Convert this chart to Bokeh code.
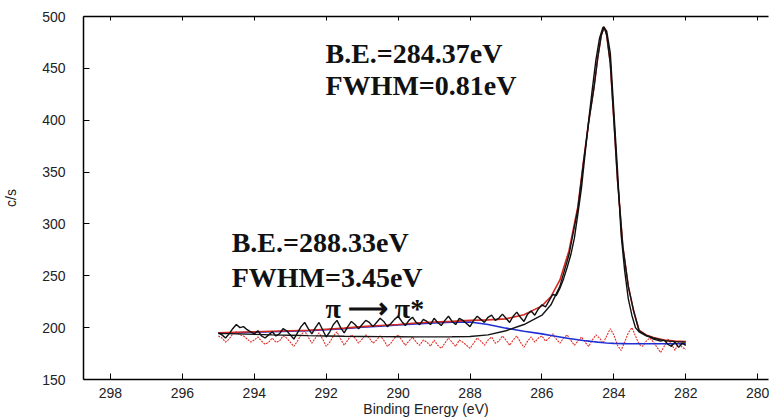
from bokeh.plotting import figure
from bokeh.models import Range1d, LinearAxis, Label, SingleIntervalTicker, CustomJSTickFormatter
from bokeh.embed import file_html
from bokeh.resources import INLINE

# ---------------- data ----------------
# raw spectrum, 295.0 -> 282.0 eV, step 0.1 eV
raw_start, raw_step = 295.0, -0.1
raw_counts = [
    195, 193, 190, 194, 199, 203, 200, 201, 198, 196,
    194, 197, 192, 190, 193, 196, 192, 194, 199, 197,
    193, 189, 195, 201, 205, 199, 194, 200, 205, 198,
    191, 196, 203, 207, 200, 195, 201, 206, 203, 199,
    203, 207, 205, 201, 205, 209, 206, 201, 204, 208,
    211, 206, 202, 207, 210, 205, 203, 208, 206, 203,
    209, 205, 202, 207, 211, 206, 203, 209, 207, 204,
    201, 207, 211, 208, 205, 210, 212, 207, 209, 213,
    209, 205, 211, 215, 210, 206, 213, 216, 212, 218,
    222, 220, 226, 232, 231, 238, 247, 258, 270, 286,
    310, 335, 368, 400, 430, 458, 479, 490, 486, 465,
    408, 352, 290, 255, 228, 212, 200, 196, 194, 192,
    191, 189, 188, 187, 188, 184, 182, 186, 181, 185,
    183,
]
# residual (red dotted), same energies
residual = [
    192, 190, 186, 189, 194, 196, 193, 192, 189, 186,
    188, 191, 187, 184, 186, 190, 186, 187, 192, 190,
    186, 182, 187, 193, 197, 191, 185, 190, 195, 189,
    182, 186, 192, 196, 189, 183, 188, 193, 190, 185,
    189, 193, 190, 185, 188, 192, 188, 182, 185, 190,
    193, 188, 183, 187, 191, 186, 183, 188, 186, 182,
    188, 183, 180, 185, 190, 186, 182, 188, 186, 183,
    180, 185, 190, 187, 183, 188, 191, 185, 187, 192,
    188, 183, 188, 192, 186, 181, 187, 191, 186, 190,
    192, 187, 190, 194, 189, 185, 190, 193, 188, 183,
    187, 191, 186, 182, 188, 193, 190, 185, 192, 199,
    193, 183, 178, 186, 195, 200, 192, 184, 182, 187,
    190, 186, 181, 176, 182, 189, 184, 178, 186, 181,
    179,
]

# fitted curves
fit_energy = [295.0, 294.5, 294.0, 293.5, 293.0, 292.5, 292.0, 291.5, 291.0, 290.5,
              290.0, 289.5, 289.0, 288.5, 288.0, 287.5, 287.0, 286.5, 286.0, 285.75,
              285.5, 285.25, 285.0, 284.85, 284.7, 284.55, 284.45, 284.35, 284.27, 284.2,
              284.1, 284.0, 283.9, 283.75, 283.6, 283.45, 283.3, 283.1, 282.9, 282.6,
              282.3, 282.0]
# background + pi->pi* component (blue)
pi_component = [194.5, 195, 195.5, 196, 196.5, 197, 198, 199, 200.5, 201.5,
                202.5, 203.5, 204.5, 205.3, 205.5, 203, 199.5, 196.5, 194, 192.5,
                191, 189.5, 188.3, 187.6, 187, 186.4, 186, 185.7, 185.4, 185.2,
                185, 184.8, 184.7, 184.6, 184.5, 184.5, 184.5, 184.5, 184.5, 184.5,
                184.5, 184.5]
# background + main C 1s component (black)
main_component = [194.5, 194, 193.5, 193, 192.7, 192.3, 192, 191.7, 191.5, 191.3,
                  191.2, 191.1, 191.1, 191.2, 191.5, 193, 197, 203, 212, 222,
                  240, 270, 315, 358, 398, 432, 460, 482, 490, 482,
                  455, 400, 343, 278, 240, 216, 197, 192.5, 190, 187.5,
                  186.5, 186]
# total envelope (red)
envelope = [195, 195.5, 196, 196.5, 197, 197.5, 198.5, 199.5, 201, 202,
            203, 204.5, 205.5, 206, 207, 207.5, 208.5, 212.5, 221, 230,
            246, 274, 317, 359, 399, 433, 460, 482, 490, 482,
            455, 400, 343, 278, 240, 216, 197.5, 193, 190.5, 188,
            187, 186.5]

annotations = [
    ("B.E.=284.37eV", 292.02, 464.2),
    ("FWHM=0.81eV", 292.02, 433.5),
    ("B.E.=288.33eV", 294.63, 282.2),
    ("FWHM=3.45eV", 294.63, 248.7),
    ("\u03c0 \u27f6 \u03c0*", 292.02, 218.0),
]

raw_energy = [round(raw_start + i * raw_step, 2) for i in range(len(raw_counts))]

# ---------------- figure ----------------
p = figure(width=769, height=419,
           x_range=Range1d(298.75, 279.7), y_range=Range1d(150, 500),
           output_backend="svg", toolbar_location=None,
           min_border_left=80, min_border_right=1,
           min_border_top=16, min_border_bottom=38,
           x_axis_label="Binding Energy (eV)", y_axis_label="c/s")
p.background_fill_color = "white"
p.border_fill_color = "white"
p.outline_line_color = None
p.xgrid.visible = False
p.ygrid.visible = False

for ax in (p.xaxis[0], p.yaxis[0]):
    ax.axis_line_color = "black"
    ax.axis_line_width = 1.5
    ax.major_tick_in = 6
    ax.major_tick_out = 0
    ax.major_tick_line_color = "black"
    ax.minor_tick_line_color = None
    ax.major_label_text_font = "Liberation Sans"
    ax.major_label_text_font_size = "14px"
    ax.major_label_text_color = "#222222"
    ax.axis_label_text_font = "Liberation Sans"
    ax.axis_label_text_font_size = "14px"
    ax.axis_label_text_font_style = "normal"
    ax.axis_label_text_color = "#222222"

p.xaxis[0].ticker = SingleIntervalTicker(interval=2)
p.yaxis[0].ticker = SingleIntervalTicker(interval=50)
p.xaxis[0].major_label_standoff = 4
p.xaxis[0].axis_label_standoff = 0
p.yaxis[0].major_label_standoff = 14
p.yaxis[0].axis_label_standoff = 20

top = LinearAxis(ticker=SingleIntervalTicker(interval=2),
                 formatter=CustomJSTickFormatter(code="return ''"),
                 major_tick_in=4, major_tick_out=0,
                 minor_tick_line_color=None,
                 axis_line_color="black", axis_line_width=1.5,
                 major_label_standoff=0)
p.add_layout(top, "above")

# curves
p.line(raw_energy, residual, line_color="#e0302a", line_width=1.1,
       line_dash="2 1")
p.line(fit_energy, pi_component, line_color="#1f2fd6", line_width=1.6)
p.line(fit_energy, envelope, line_color="#d42a22", line_width=1.6)
p.line(fit_energy, main_component, line_color="#151515", line_width=1.4)
p.line(raw_energy, raw_counts, line_color="#101010", line_width=1.4)

for txt, x, y in annotations:
    p.add_layout(Label(x=x, y=y, text=txt, text_font="Liberation Serif",
                       text_font_style="bold", text_font_size="28px",
                       text_color="#111111", text_baseline="alphabetic"))

open("out.html", "w").write(file_html(p, INLINE))
